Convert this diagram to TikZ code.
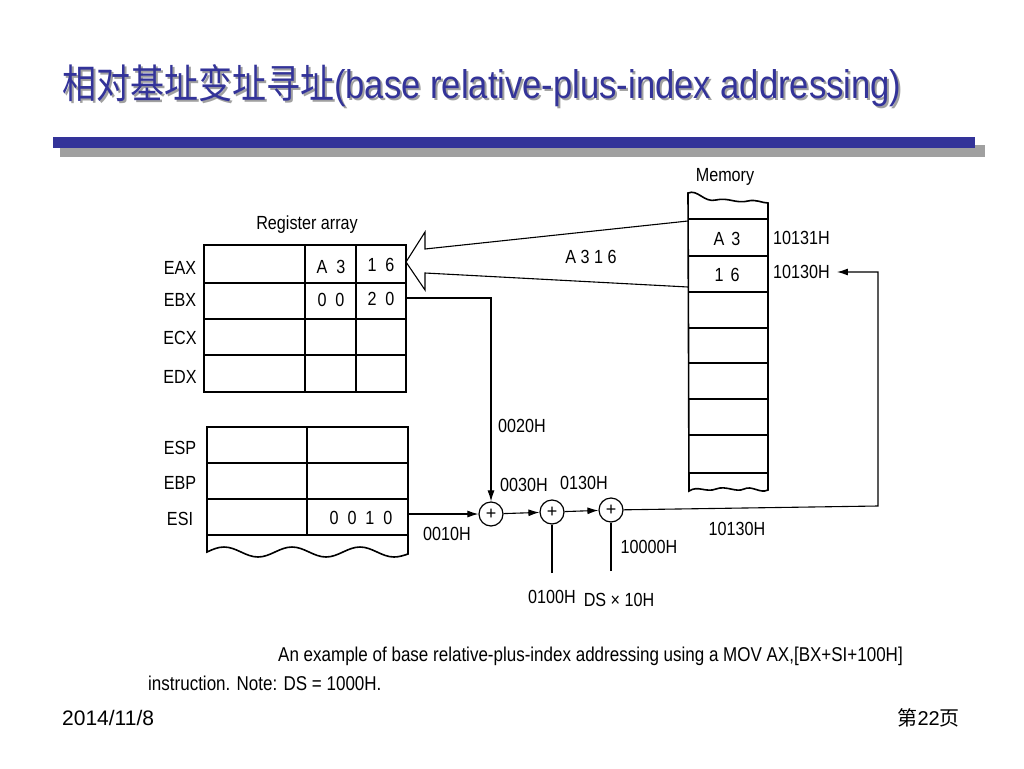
\documentclass[tikz,border=0pt]{standalone}
\usepackage{fontspec}
\setmainfont{Liberation Sans}
\newfontfamily\cjk{Noto Sans CJK SC}
\newfontfamily\narrow[FakeStretch=0.85]{Liberation Sans}
\newfontfamily\titlefont[FakeStretch=0.865]{Liberation Sans}
\newfontfamily\titlecjk[FakeStretch=0.85]{Noto Sans CJK SC}
\usetikzlibrary{arrows.meta}
\definecolor{titleblue}{RGB}{51,51,153}
\definecolor{shadowgray}{RGB}{160,160,160}
\newcommand{\gap}{\hspace{9pt}}

\begin{document}
\begin{tikzpicture}[x=1pt,y=-1pt,
	reg/.style = {font=\narrow\fontsize{19}{19}\selectfont, inner sep=0pt},
	lbl/.style = {font=\narrow\fontsize{19}{19}\selectfont, inner sep=0pt},
	note/.style = {font=\narrow\fontsize{20}{20}\selectfont, inner sep=0pt, anchor=base west},
	adder/.style = {draw, circle, line width=1.2pt, minimum size=24pt, inner sep=0pt, font=\fontsize{18}{18}\selectfont},
	tbl/.style = {line width=1.6pt},
	wire/.style = {line width=1.1pt},
	flow/.style = {wire, -{Latex[length=11pt,width=7pt]}}]
	\fill[white] (0,0) rectangle (1024,768);
	\useasboundingbox (0,0) rectangle (1024,768);
	% title and bar
		\node[anchor=base west, inner sep=0pt, text=shadowgray, font=\fontsize{40}{40}\selectfont] (titleshadow) at (64,100) {{\titlecjk 相对基址变址寻址}{\titlefont (base relative-plus-index addressing)}};
		\node[anchor=base west, inner sep=0pt, text=titleblue, font=\fontsize{40}{40}\selectfont] (title) at (62,98) {{\titlecjk 相对基址变址寻址}{\titlefont (base relative-plus-index addressing)}};
		\fill[shadowgray] (60,145) rectangle (985,157);
		\fill[titleblue] (53,137) rectangle (975,148);
	% register array
		\node[lbl] (regarray) at (307,225) {Register array};
		\draw[tbl] (204,245) rectangle (406,392);
		\draw[tbl] (204,283) -- (406,283) (204,319) -- (406,319) (204,355) -- (406,355);
		\draw[tbl] (305,245) -- (305,392) (356,245) -- (356,392);
		\node[reg] (eax) at (180,268) {EAX};
		\node[reg] (ebx) at (180,300) {EBX};
		\node[reg] (ecx) at (180,338) {ECX};
		\node[reg] (edx) at (180,377) {EDX};
		\node[reg] (eaxhi) at (331,267) {A\gap 3};
		\node[reg] (eaxlo) at (381,265) {1\gap 6};
		\node[reg] (ebxhi) at (331,300) {0\gap 0};
		\node[reg] (ebxlo) at (381,299) {2\gap 0};
		\draw[tbl] (207,427) rectangle (408,535);
		\draw[tbl] (207,463) -- (408,463) (207,499) -- (408,499) (307,427) -- (307,535);
		\draw[tbl] (207,535) -- (207,552) sin (224,547) cos (241,552) sin (258,557) cos (275,552) sin (292,547) cos (309,552) sin (326,557) cos (343,552) sin (360,547) cos (377,552) sin (394,557) cos (408,554) -- (408,535);
		\node[reg] (esp) at (180,448) {ESP};
		\node[reg] (ebp) at (180,483) {EBP};
		\node[reg] (esi) at (180,519) {ESI};
		\node[reg] (esival) at (361,518) {0\gap 0\gap 1\gap 0};
	% memory
		\node[lbl] (memory) at (725,177) {Memory};
		\draw[tbl] (688,193) .. controls (698,189) and (704,203) .. (716,200) .. controls (728,197) and (736,204) .. (748,201) .. controls (756,199) and (762,203) .. (768,203) -- (768,490) .. controls (760,494) and (752,485) .. (744,489) .. controls (736,493) and (726,485) .. (716,489) .. controls (706,493) and (698,485) .. (689,491) -- cycle;
		\draw[tbl] (688,219) -- (768,219) (688,256) -- (768,256) (688,292) -- (768,292) (688,328) -- (768,328) (688,363) -- (768,363) (688,399) -- (768,399) (688,435) -- (768,435) (689,473) -- (768,473);
		\node[reg] (memhi) at (727,239) {A\hspace{7pt}3};
		\node[reg] (memlo) at (727,275) {1\hspace{7pt}6};
		\node[reg, anchor=west] (addrA) at (773,238) {10131H};
		\node[reg, anchor=west] (addrB) at (773,272) {10130H};
	% data path
		\coordinate (eaxR) at (406,262);
		\coordinate (memtop) at (688,221);
		\coordinate (membot) at (688,287);
		\draw[wire] (memtop) -- ([shift={(19,-13)}]eaxR) -- ([shift={(19,-30)}]eaxR) -- (eaxR) -- ([shift={(19,28)}]eaxR) -- ([shift={(19,11)}]eaxR) -- (membot);
		\node[reg] (word) at (591,257) {A 3 1 6};
		\node[adder] (add1) at (491,514) {+};
		\node[adder] (add2) at (552,512) {+};
		\node[adder] (add3) at (611,510) {+};
		\coordinate (ebxR) at (406,298);
		\coordinate (esiR) at (408,514);
		\coordinate (disp) at (552,573);
		\coordinate (segbase) at (611,571);
		\coordinate (back) at (878,506);
		\draw[flow] (ebxR) -| (add1);
		\draw[flow] (esiR) -- (add1);
		\draw[flow] (add1) -- (add2);
		\draw[flow] (add2) -- (add3);
		\draw[wire] (disp) -- (add2);
		\draw[wire] (segbase) -- (add3);
		\draw[flow, shorten >=7pt] (add3) -- (back) |- (addrB);
	% values on the wires
		\node[lbl] (v0020) at (522,426) {0020H};
		\node[lbl] (v0030) at (524,485) {0030H};
		\node[lbl] (v0130) at (584,483) {0130H};
		\node[lbl] (v0010) at (447,534) {0010H};
		\node[lbl] (v10130) at (737,529) {10130H};
		\node[lbl] (v10000) at (649,547) {10000H};
		\node[lbl] (v0100) at (552,597) {0100H};
		\node[lbl] (vds) at (619,600) {DS × 10H};
	% caption and footer
		\node[note] (cap1) at (278,661) {An example of base relative-plus-index addressing using a MOV AX,[BX+SI+100H]};
		\node[note] (cap2) at (148,690) {instruction. Note: DS = 1000H.};
		\node[anchor=base west, inner sep=0pt, font=\fontsize{21}{21}\selectfont] (date) at (62,725) {2014/11/8};
		\node[anchor=base east, inner sep=0pt, font=\fontsize{20}{20}\selectfont] (page) at (960,725) {{\cjk 第}22{\cjk 页}};
\end{tikzpicture}
\end{document}
